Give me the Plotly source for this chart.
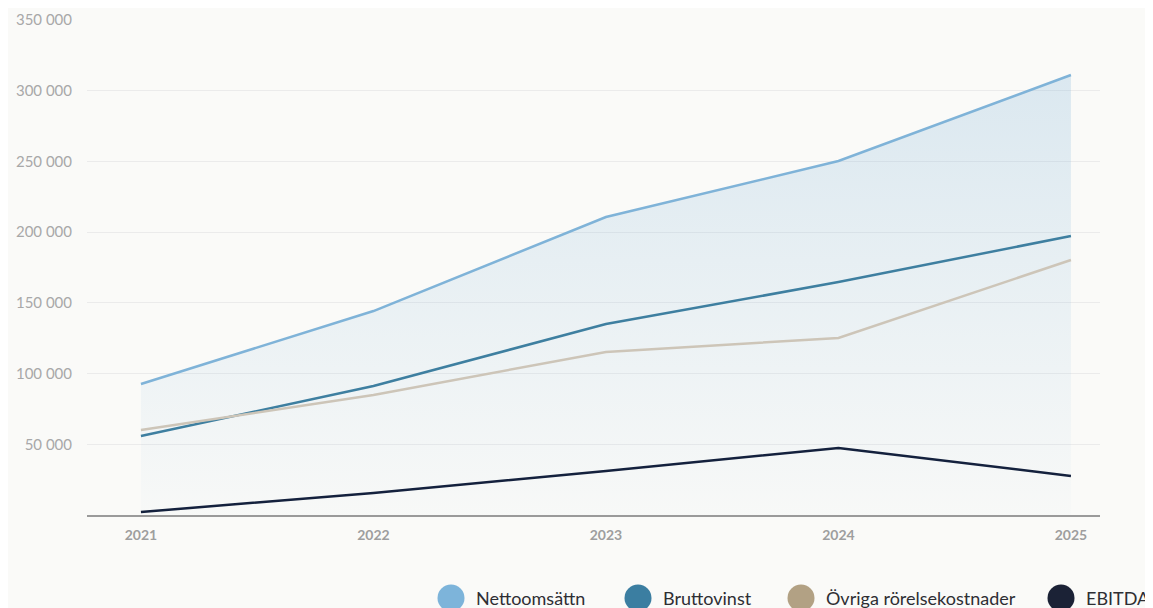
import plotly.graph_objects as go

years = [2021, 2022, 2023, 2024, 2025]
year_labels = ["2021", "2022", "2023", "2024", "2025"]
netto = [92600, 144200, 210700, 250300, 311100]
brutto = [55900, 91200, 135000, 164700, 197300]
ovriga = [60100, 84800, 115300, 125200, 180300]
ebitda = [2100, 15600, 31100, 47400, 27600]
y_ticks = [50000, 100000, 150000, 200000, 250000, 300000, 350000]
y_tick_labels = ["50 000", "100 000", "150 000", "200 000", "250 000", "300 000", "350 000"]

legend_names = ["Nettoomsättn", "Bruttovinst", "Övriga rörelsekostnader", "EBITDA"]
legend_colors = ["#7db4da", "#3b7ea1", "#b2a184", "#1b2236"]

fig = go.Figure()
fig.add_trace(go.Scatter(
    x=years, y=netto, mode="lines", name=legend_names[0],
    line=dict(color="#7fb3d8", width=2.5),
    fill="tozeroy",
    fillgradient=dict(type="vertical", start=0, stop=320000,
                      colorscale=[[0, "rgba(127,179,216,0.02)"], [1, "rgba(127,179,216,0.26)"]]),
    showlegend=False, hoverinfo="skip"))
fig.add_trace(go.Scatter(x=years, y=brutto, mode="lines", name=legend_names[1],
                         line=dict(color="#3e7fa0", width=2.5), showlegend=False))
fig.add_trace(go.Scatter(x=years, y=ovriga, mode="lines", name=legend_names[2],
                         line=dict(color="#cdc5b8", width=2.5), showlegend=False))
fig.add_trace(go.Scatter(x=years, y=ebitda, mode="lines", name=legend_names[3],
                         line=dict(color="#14213d", width=2.5), showlegend=False))

# page offset of 8 px (browser body margin) is compensated in the figure geometry
W, H = 1153, 600
L, R, T, B = 79, 61, 12, 93
pw = W - L - R
ph = H - T - B

# manual legend (large circles), centres in figure pixels
legend_cx = [443, 630, 793, 1053]
legend_cy = 590
shapes = []
annotations = []
for name, col, px in zip(legend_names, legend_colors, legend_cx):
    xp = (px - L) / pw
    yp = (H - legend_cy - B) / ph
    shapes.append(dict(type="circle", xref="paper", yref="paper", xsizemode="pixel", ysizemode="pixel",
                       xanchor=xp, yanchor=yp, x0=-13.5, x1=13.5, y0=-13.5, y1=13.5,
                       fillcolor=col, line=dict(width=0)))
    annotations.append(dict(text=name, xref="paper", yref="paper", x=(px + 23 - L) / pw, y=yp,
                            xanchor="left", yanchor="middle", showarrow=False,
                            font=dict(family="Lato", size=18, color="#2e2e33")))

fig.update_layout(
    width=W, height=H,
    margin=dict(l=L, r=R, t=T, b=B, autoexpand=False),
    paper_bgcolor="#fafaf8", plot_bgcolor="#fafaf8",
    showlegend=False,
    shapes=shapes, annotations=annotations,
    xaxis=dict(range=[2020.768, 2025.125], tickvals=years, ticktext=year_labels, automargin=False,
               showgrid=False, zeroline=False, showline=True, linecolor="#9a9a9a", linewidth=2,
               ticks="", ticklabelstandoff=6,
               tickfont=dict(family="Lato", size=14, color="#9e9e9e", weight="bold")),
    yaxis=dict(range=[0, 350000], tickvals=y_ticks, ticktext=y_tick_labels, automargin=False,
               showgrid=True, gridcolor="#ebebeb", gridwidth=1, zeroline=False, showline=False,
               ticks="", ticklabelstandoff=14,
               tickfont=dict(family="Lato", size=15, color="#a8a8a8")),
)
fig.write_html("out.html")
